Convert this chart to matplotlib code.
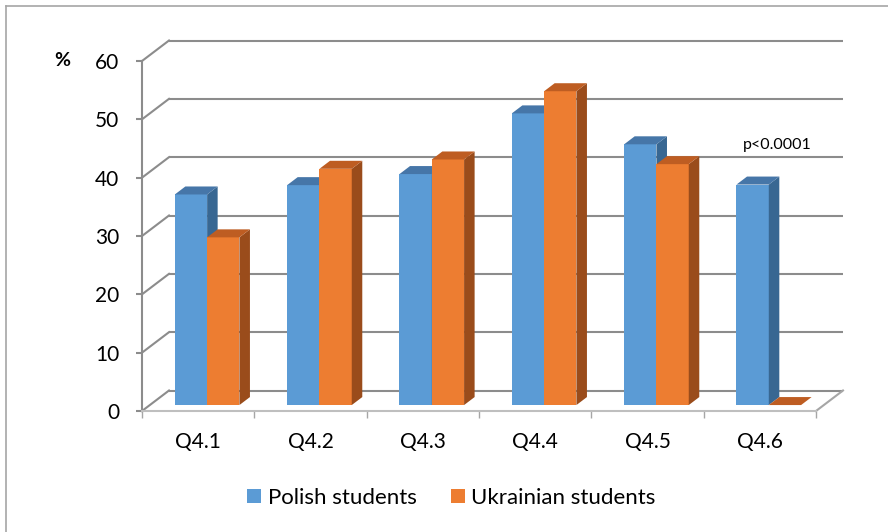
import matplotlib
matplotlib.use("Agg")
import matplotlib.pyplot as plt
from matplotlib.patches import Polygon, Patch
from matplotlib.lines import Line2D

plt.rcParams['font.family'] = ['Lato', 'DejaVu Sans']

categories = ["Q4.1", "Q4.2", "Q4.3", "Q4.4", "Q4.5", "Q4.6"]
polish = [36.1, 37.7, 39.6, 50.0, 44.7, 37.8]
ukrainian = [28.75, 40.5, 42.1, 53.8, 41.3, 0.0]
series_names = ["Polish students", "Ukrainian students"]
yticks = [0, 10, 20, 30, 40, 50, 60]
annotation = "p<0.0001"

W, H = 888, 532
fig = plt.figure(figsize=(W / 100, H / 100), dpi=100)
fig.patch.set_facecolor("white")

FS = 15
LFS = 16

# front plane of the plot: x 142..816 px, y(0)=411, y(60)=61 px (from top)
ax = fig.add_axes([142 / W, (H - 411) / H, 674 / W, 350 / H])
ax.set_xlim(0, 6)
ax.set_ylim(0, 60)
ax.patch.set_visible(False)

px_x = 6 / 674.0
px_y = 60 / 350.0
DX = 27 * px_x       # depth offset of back wall
DY = 20.5 * px_y

grid_c = "#8C8C8C"
lw = 1.5

# back wall gridlines and left-wall diagonals
for v in yticks:
    ax.plot([DX, 6 + DX], [v + DY, v + DY], color=grid_c, lw=lw, clip_on=False,
            solid_capstyle="butt", zorder=1)
    ax.plot([0, DX], [v, v + DY], color=grid_c, lw=lw, clip_on=False, zorder=1)
# floor right edge
ax.plot([6, 6 + DX], [0, DY], color="#A6A6A6", lw=lw, clip_on=False, zorder=1)

# bars
d0 = 0.29   # front face depth
dd = 0.39   # depth extent
bw = 0.2875
colors = {
    0: ("#5B9BD5", "#4676A8", "#386792"),
    1: ("#ED7D31", "#BE5D22", "#9A4C1B"),
}


def draw_bar(x0, h, cols, z):
    front, top, side = cols
    X = x0 + d0 * DX
    Y = d0 * DY
    ex, ey = dd * DX, dd * DY
    if h > 0:
        ax.add_patch(Polygon([(X, Y), (X + bw, Y), (X + bw, Y + h), (X, Y + h)],
                             closed=True, fc=front, ec="none", clip_on=False, zorder=z))
        ax.add_patch(Polygon([(X + bw, Y), (X + bw + ex, Y + ey), (X + bw + ex, Y + h + ey),
                              (X + bw, Y + h)], closed=True, fc=side, ec="none",
                             clip_on=False, zorder=z))
    ax.add_patch(Polygon([(X, Y + h), (X + bw, Y + h), (X + bw + ex, Y + h + ey),
                          (X + ex, Y + h + ey)], closed=True, fc=top, ec="none",
                         clip_on=False, zorder=z))


for i in range(len(categories)):
    c = i + 0.5 + 0.01
    draw_bar(c - bw, polish[i], colors[0], 3 + 2 * i)
    draw_bar(c, ukrainian[i], colors[1], 4 + 2 * i)

# axes / spines
for s in ["top", "right"]:
    ax.spines[s].set_visible(False)
ax.spines["left"].set_color(grid_c)
ax.spines["left"].set_linewidth(lw)
ax.spines["bottom"].set_color("#BFBFBF")
ax.spines["bottom"].set_linewidth(lw)
ax.spines["left"].set_zorder(2)
ax.spines["bottom"].set_zorder(2)

ax.set_yticks(yticks)
ax.set_yticklabels([str(v) for v in yticks])
ax.tick_params(axis="y", length=4.3, width=lw, color=grid_c, pad=12,
               labelsize=FS, labelcolor="black")
ax.set_xticks(range(0, 7))
ax.set_xticklabels([])
ax.tick_params(axis="x", which="major", length=5, width=1.0, color="#A6A6A6", direction="out")
ax.set_xticks([i + 0.5 for i in range(6)], minor=True)
ax.set_xticklabels(categories, minor=True)
ax.tick_params(axis="x", which="minor", length=0, pad=15, labelsize=FS)

# % label and annotation
fig.text(62 / W, 1 - 61 / H, "%", ha="center", va="center", fontsize=14, fontweight="bold")
fig.text(742.7 / W, 1 - 145 / H, annotation, ha="left", va="center", fontsize=11.5)

# legend
handles = [Patch(facecolor=colors[0][0], edgecolor="none"),
           Patch(facecolor=colors[1][0], edgecolor="none")]
fig.legend(handles, series_names, loc="center", bbox_to_anchor=(451.5 / W, 1 - 498 / H),
           ncol=2, frameon=False, fontsize=LFS, handlelength=0.63, handleheight=0.63,
           handletextpad=0.3, columnspacing=1.53)

# outer border (top and left)
fig.add_artist(Line2D([5.5 / W, 1.0], [1 - 5.5 / H, 1 - 5.5 / H], transform=fig.transFigure,
                      color="#A6A6A6", lw=1.2))
fig.add_artist(Line2D([5.5 / W, 5.5 / W], [0, 1 - 5.5 / H], transform=fig.transFigure,
                      color="#A6A6A6", lw=1.2))

fig.savefig("out.png", dpi=100, facecolor="white")
